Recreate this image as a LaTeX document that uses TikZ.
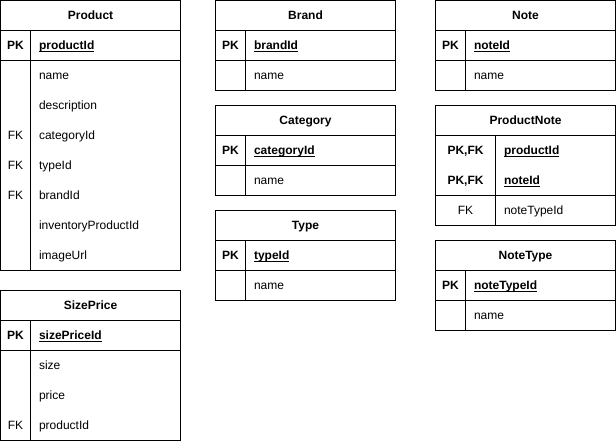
\documentclass[tikz,border=0pt]{standalone}
\usepackage{fontspec}
\setmainfont{Liberation Sans}
\newcommand{\ulx}[1]{\setbox0\hbox{#1}\rlap{\rule[-2.2bp]{\wd0}{0.9bp}}\box0}
\tikzset{
  txt/.style={inner sep=0pt, text height=8bp, text depth=0bp, font=\fontsize{12bp}{14bp}\selectfont},
  ttl/.style={txt, anchor=center, font=\fontsize{12bp}{14bp}\selectfont\bfseries},
  kt/.style={txt, anchor=center},
  pkt/.style={txt, anchor=center, font=\fontsize{12bp}{14bp}\selectfont\bfseries},
  fld/.style={txt, anchor=west},
  pkf/.style={txt, anchor=west, font=\fontsize{12bp}{14bp}\selectfont\bfseries},
}
\begin{document}
\begin{tikzpicture}[x=1bp,y=-1bp,line width=1bp]
\useasboundingbox (0,0) rectangle (616,441);

% ---------- Product ----------
\draw (0.5,0.5) rectangle (180.5,270.5);
\draw (0.5,30.5) -- (180.5,30.5);
\draw (0.5,60.5) -- (180.5,60.5);
\draw (30.5,30.5) -- (30.5,270.5);
\node[ttl] (productT) at (90.5,15.5) {Product};
\node[pkt] (productK1) at (15.5,45.5) {PK};
\node[pkf] (productF1) at (38.5,45.5) {\ulx{productId}};
\node[fld] (productF2) at (38.5,75.5) {name};
\node[fld] (productF3) at (38.5,105.5) {description};
\node[kt] (productK4) at (15.5,135.5) {FK};
\node[fld] (productF4) at (38.5,135.5) {categoryId};
\node[kt] (productK5) at (15.5,165.5) {FK};
\node[fld] (productF5) at (38.5,165.5) {typeId};
\node[kt] (productK6) at (15.5,195.5) {FK};
\node[fld] (productF6) at (38.5,195.5) {brandId};
\node[fld] (productF7) at (38.5,225.5) {inventoryProductId};
\node[fld] (productF8) at (38.5,255.5) {imageUrl};

% ---------- SizePrice ----------
\draw (0.5,290.5) rectangle (180.5,440.5);
\draw (0.5,320.5) -- (180.5,320.5);
\draw (0.5,350.5) -- (180.5,350.5);
\draw (30.5,320.5) -- (30.5,440.5);
\node[ttl] (sizeT) at (90.5,305.5) {SizePrice};
\node[pkt] (sizeK1) at (15.5,335.5) {PK};
\node[pkf] (sizeF1) at (38.5,335.5) {\ulx{sizePriceId}};
\node[fld] (sizeF2) at (38.5,365.5) {size};
\node[fld] (sizeF3) at (38.5,395.5) {price};
\node[kt] (sizeK4) at (15.5,425.5) {FK};
\node[fld] (sizeF4) at (38.5,425.5) {productId};

% ---------- Brand ----------
\draw (215.5,0.5) rectangle (395.5,90.5);
\draw (215.5,30.5) -- (395.5,30.5);
\draw (215.5,60.5) -- (395.5,60.5);
\draw (245.5,30.5) -- (245.5,90.5);
\node[ttl] (brandT) at (305.5,15.5) {Brand};
\node[pkt] (brandK1) at (230.5,45.5) {PK};
\node[pkf] (brandF1) at (253.5,45.5) {\ulx{brandId}};
\node[fld] (brandF2) at (253.5,75.5) {name};

% ---------- Category ----------
\draw (215.5,105.5) rectangle (395.5,195.5);
\draw (215.5,135.5) -- (395.5,135.5);
\draw (215.5,165.5) -- (395.5,165.5);
\draw (245.5,135.5) -- (245.5,195.5);
\node[ttl] (catT) at (305.5,120.5) {Category};
\node[pkt] (catK1) at (230.5,150.5) {PK};
\node[pkf] (catF1) at (253.5,150.5) {\ulx{categoryId}};
\node[fld] (catF2) at (253.5,180.5) {name};

% ---------- Type ----------
\draw (215.5,210.5) rectangle (395.5,300.5);
\draw (215.5,240.5) -- (395.5,240.5);
\draw (215.5,270.5) -- (395.5,270.5);
\draw (245.5,240.5) -- (245.5,300.5);
\node[ttl] (typeT) at (305.5,225.5) {Type};
\node[pkt] (typeK1) at (230.5,255.5) {PK};
\node[pkf] (typeF1) at (253.5,255.5) {\ulx{typeId}};
\node[fld] (typeF2) at (253.5,285.5) {name};

% ---------- Note ----------
\draw (435.5,0.5) rectangle (615.5,90.5);
\draw (435.5,30.5) -- (615.5,30.5);
\draw (435.5,60.5) -- (615.5,60.5);
\draw (465.5,30.5) -- (465.5,90.5);
\node[ttl] (noteT) at (525.5,15.5) {Note};
\node[pkt] (noteK1) at (450.5,45.5) {PK};
\node[pkf] (noteF1) at (473.5,45.5) {\ulx{noteId}};
\node[fld] (noteF2) at (473.5,75.5) {name};

% ---------- ProductNote ----------
\draw (435.5,105.5) rectangle (615.5,225.5);
\draw (435.5,135.5) -- (615.5,135.5);
\draw (435.5,195.5) -- (615.5,195.5);
\draw (495.5,135.5) -- (495.5,225.5);
\node[ttl] (pnT) at (525.5,120.5) {ProductNote};
\node[pkt] (pnK1) at (465.5,150.5) {PK,FK};
\node[pkf] (pnF1) at (503.5,150.5) {\ulx{productId}};
\node[pkt] (pnK2) at (465.5,180.5) {PK,FK};
\node[pkf] (pnF2) at (503.5,180.5) {\ulx{noteId}};
\node[kt] (pnK3) at (465.5,210.5) {FK};
\node[fld] (pnF3) at (503.5,210.5) {noteTypeId};

% ---------- NoteType ----------
\draw (435.5,240.5) rectangle (615.5,330.5);
\draw (435.5,270.5) -- (615.5,270.5);
\draw (435.5,300.5) -- (615.5,300.5);
\draw (465.5,270.5) -- (465.5,330.5);
\node[ttl] (ntT) at (525.5,255.5) {NoteType};
\node[pkt] (ntK1) at (450.5,285.5) {PK};
\node[pkf] (ntF1) at (473.5,285.5) {\ulx{noteTypeId}};
\node[fld] (ntF2) at (473.5,315.5) {name};
\end{tikzpicture}
\end{document}
